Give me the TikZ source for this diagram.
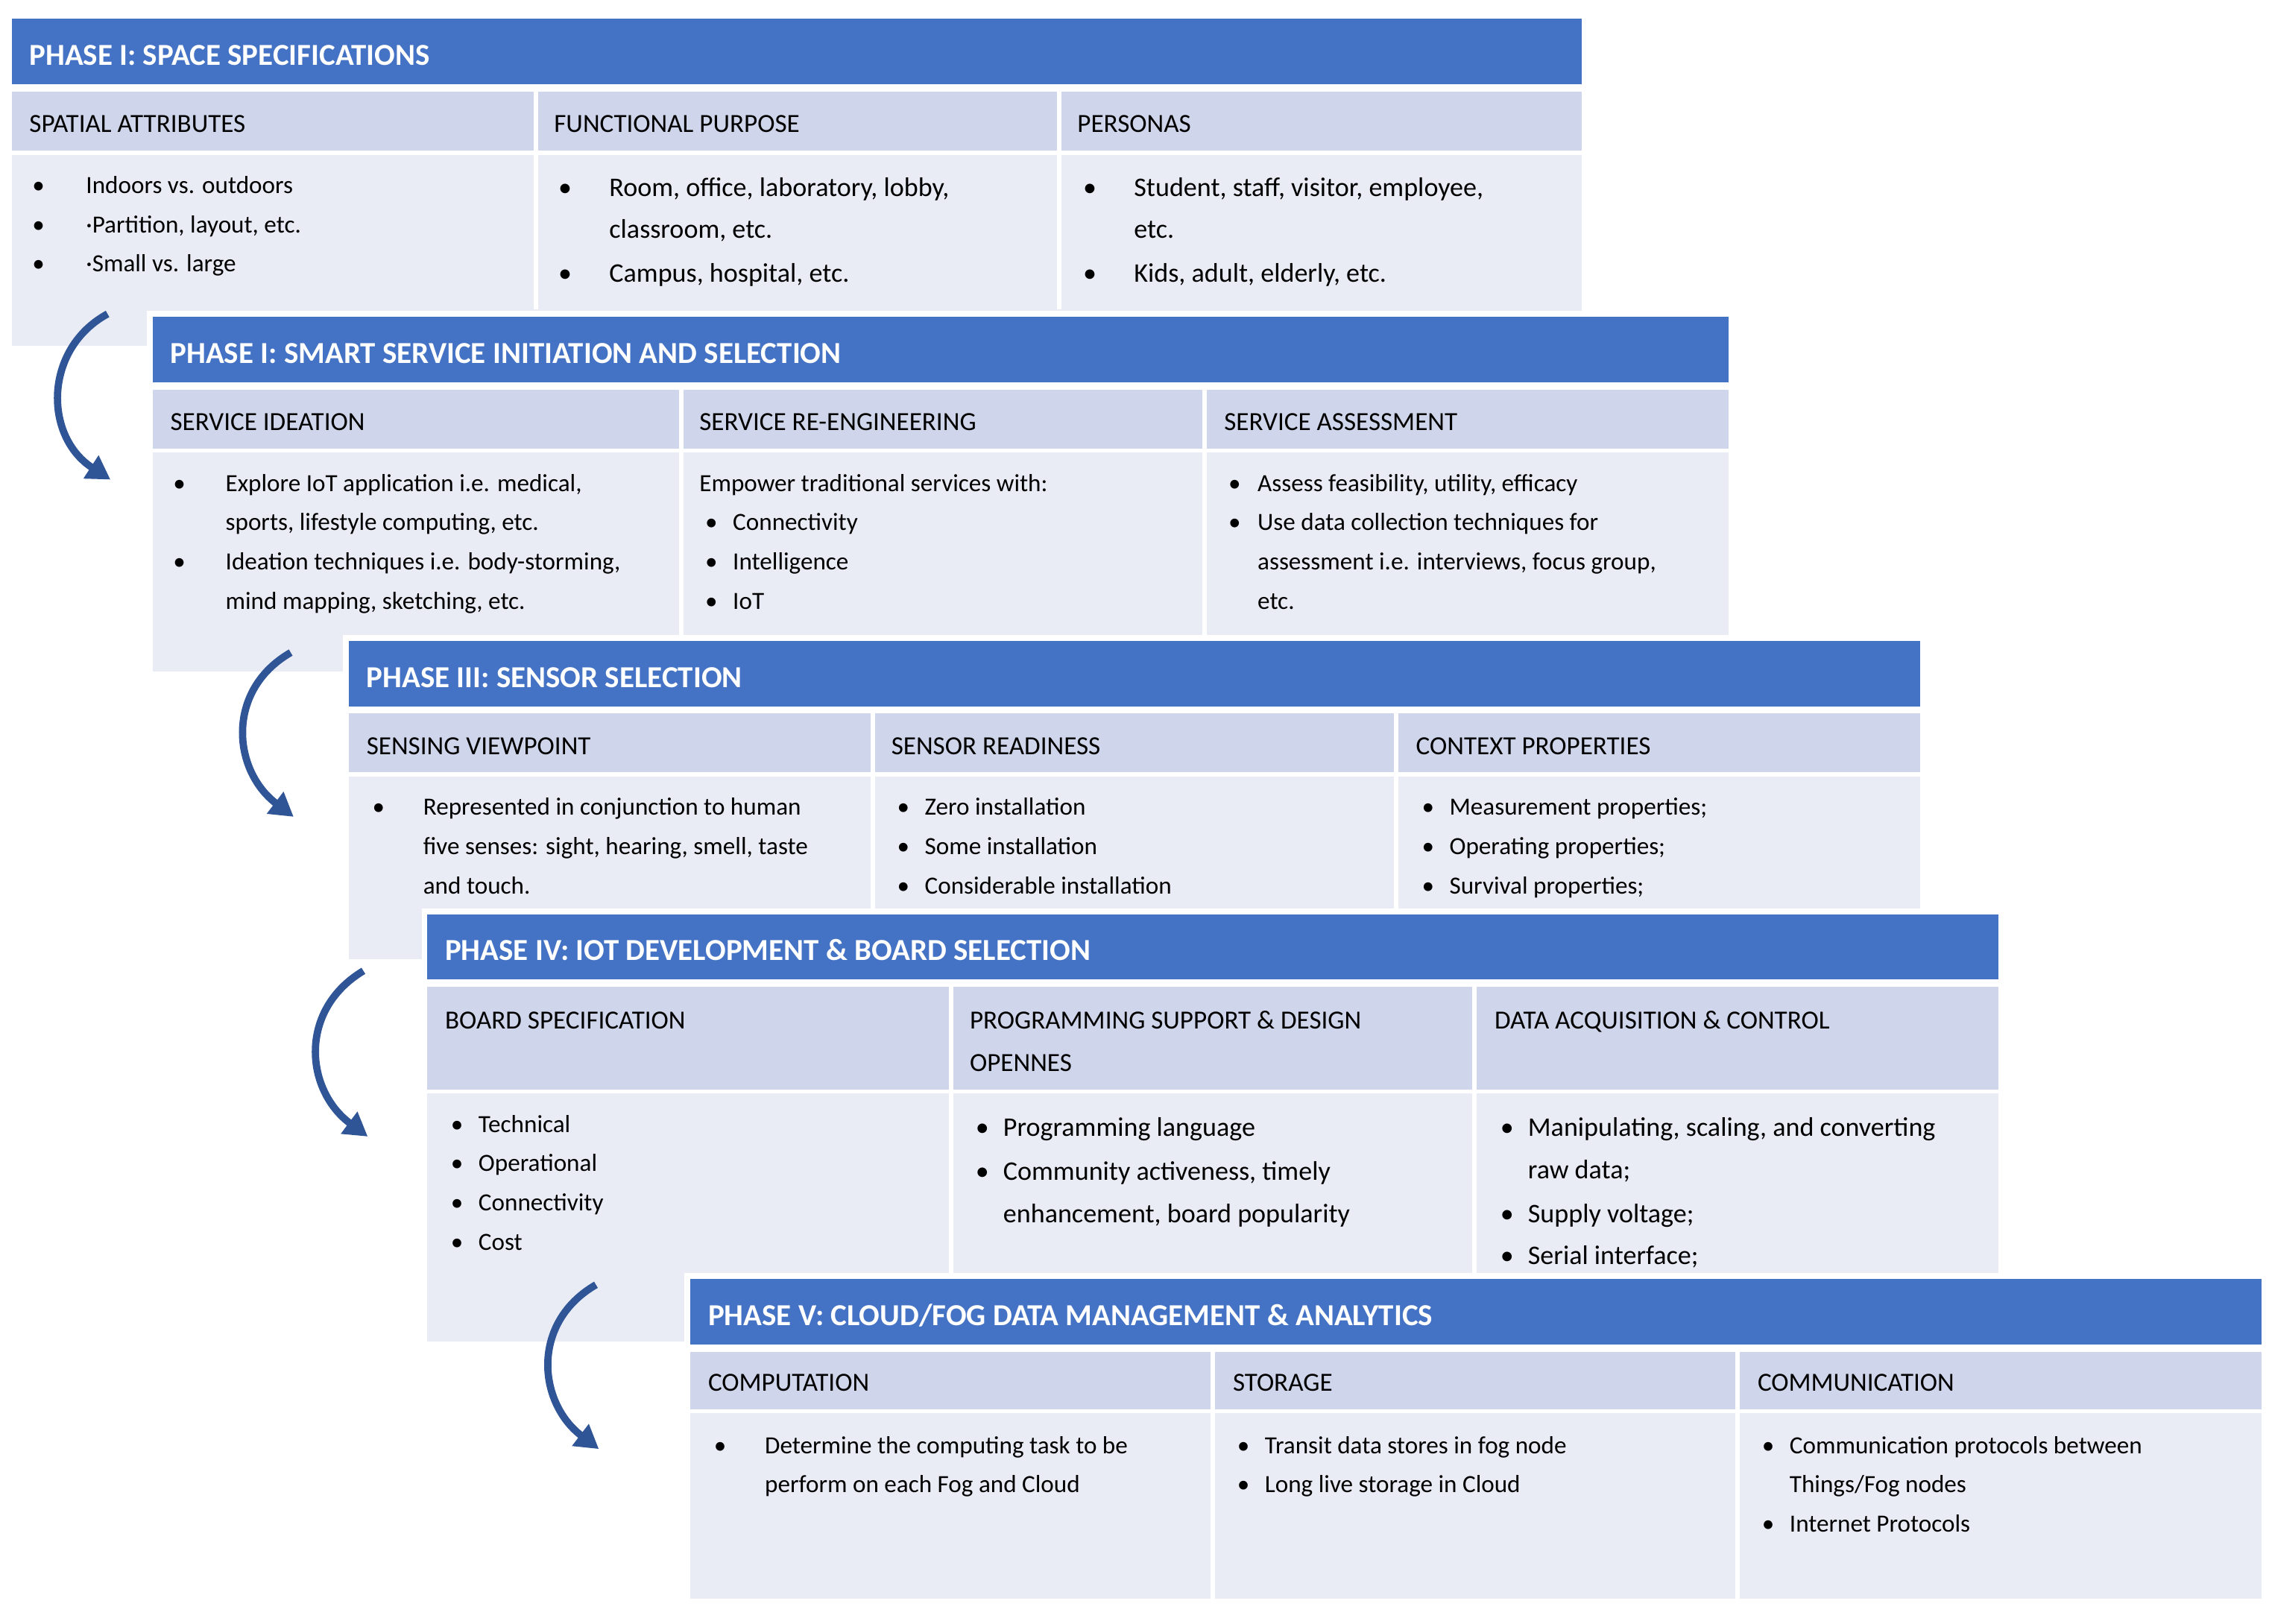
\documentclass[tikz,border=0pt]{standalone}
\usepackage{fontspec}
\setmainfont{Carlito}
\usetikzlibrary{arrows.meta}
\definecolor{tbar}{HTML}{4472C4}
\definecolor{hcell}{HTML}{CFD5EA}
\definecolor{bcell}{HTML}{E9EBF5}
\definecolor{arr}{HTML}{2F5597}
\newcounter{tn}
\tikzset{txt/.style={anchor=base west,inner sep=0,font=\fontsize{17}{20}\selectfont},
 ttl/.style={anchor=base west,inner sep=0,text=white,font=\bfseries\fontsize{21}{24}\selectfont},
 hdr/.style={anchor=base west,inner sep=0,font=\fontsize{18}{21}\selectfont},
 big/.style={font=\fontsize{18.5}{21}\selectfont},
 carrow/.style={arr,line width=5pt,-{Triangle[length=16pt,width=18pt]}}}
\newcommand\tx[3][]{\stepcounter{tn}\node[txt,#1] (t\arabic{tn}) at (#2) {#3};}
\newcommand\bt[5][]{\stepcounter{tn}\node[txt,#1] (b\arabic{tn}) at (#2,#4) {•};\node[txt,#1] (t\arabic{tn}) at (#3,#4) {#5};}
% panel: x0, c1, c2, x1, ytop, hbot, bbot, ext
\newcommand\panel[8]{%
 \fill[white] (#1-4,#5-4) rectangle (#4+4,#8+4);
 \fill[bcell] (#1,#5+45) rectangle (#4,#8);
 \fill[tbar] (#1,#5) rectangle (#4,#5+45);
 \fill[white] (#1,#5+45) rectangle (#4,#5+50);
 \fill[hcell] (#1,#5+50) rectangle (#4,#6);
 \draw[white,line width=3pt] (#1,#6+1) -- (#4,#6+1);
 \draw[white,line width=3pt] (#2,#5+50) -- (#2,#7) (#3,#5+50) -- (#3,#7);
}
\begin{document}
\begin{tikzpicture}[x=1pt,y=-1pt]
\useasboundingbox (0,0) rectangle (1561,1117);
% ---------- Panel 1
\panel{8}{368.5}{728.5}{1088}{13}{104}{213}{238}
\node[ttl] (p1) at (20,45) {PHASE I: SPACE SPECIFICATIONS};
\node[hdr] (h11) at (20,91) {SPATIAL ATTRIBUTES};
\node[hdr] (h12) at (381,91) {FUNCTIONAL PURPOSE};
\node[hdr] (h13) at (741,91) {PERSONAS};
\bt{22}{59}{133}{Indoors vs. outdoors}
\bt{22}{59}{160}{·Partition, layout, etc.}
\bt{22}{59}{187}{·Small vs. large}
\bt[big]{384}{419}{135}{Room, office, laboratory, lobby,}
\tx[big]{419,164}{classroom, etc.}
\bt[big]{384}{419}{194}{Campus, hospital, etc.}
\bt[big]{745}{780}{135}{Student, staff, visitor, employee,}
\tx[big]{780,164}{etc.}
\bt[big]{745}{780}{194}{Kids, adult, elderly, etc.}
\coordinate (a1s) at (74,216); \coordinate (a1e) at (76,330);
\draw[carrow] (a1s) .. controls (30,240) and (30,300) .. (a1e);
% ---------- Panel 2
\panel{105}{468.5}{828.5}{1189}{218}{309}{437}{462}
\node[ttl] (p2) at (117,250) {PHASE I: SMART SERVICE INITIATION AND SELECTION};
\node[hdr] (h21) at (117,296) {SERVICE IDEATION};
\node[hdr] (h22) at (481,296) {SERVICE RE-ENGINEERING};
\node[hdr] (h23) at (842,296) {SERVICE ASSESSMENT};
\bt{119}{155}{338}{Explore IoT application i.e. medical,}
\tx{155,365}{sports, lifestyle computing, etc.}
\bt{119}{155}{392}{Ideation techniques i.e. body-storming,}
\tx{155,419}{mind mapping, sketching, etc.}
\tx{481,338}{Empower traditional services with:}
\bt{485}{504}{365}{Connectivity}
\bt{485}{504}{392}{Intelligence}
\bt{485}{504}{419}{IoT}
\bt{845}{865}{338}{Assess feasibility, utility, efficacy}
\bt{845}{865}{365}{Use data collection techniques for}
\tx{865,392}{assessment i.e. interviews, focus group,}
\tx{865,419}{etc.}
\coordinate (a2s) at (200,449); \coordinate (a2e) at (202,562);
\draw[carrow] (a2s) .. controls (155,475) and (160,530) .. (a2e);
% ---------- Panel 3
\panel{240}{600.5}{960.5}{1321}{441}{532}{628}{660}
\node[ttl] (p3) at (252,473) {PHASE III: SENSOR SELECTION};
\node[hdr] (h31) at (252,519) {SENSING VIEWPOINT};
\node[hdr] (h32) at (613,519) {SENSOR READINESS};
\node[hdr] (h33) at (974,519) {CONTEXT PROPERTIES};
\bt{256}{291}{561}{Represented in conjunction to human}
\tx{291,588}{five senses: sight, hearing, smell, taste}
\tx{291,615}{and touch.}
\bt{617}{636}{561}{Zero installation}
\bt{617}{636}{588}{Some installation}
\bt{617}{636}{615}{Considerable installation}
\bt{978}{997}{561}{Measurement properties;}
\bt{978}{997}{588}{Operating properties;}
\bt{978}{997}{615}{Survival properties;}
\coordinate (a3s) at (250,668); \coordinate (a3e) at (253,782);
\draw[carrow] (a3s) .. controls (205,695) and (210,750) .. (a3e);
% ---------- Panel 4
\panel{294}{654.5}{1014.5}{1375}{629}{750}{877}{923}
\node[ttl] (p4) at (306,661) {PHASE IV: IOT DEVELOPMENT \& BOARD SELECTION};
\node[hdr] (h41) at (306,708) {BOARD SPECIFICATION};
\node[hdr] (h42) at (667,708) {PROGRAMMING SUPPORT \& DESIGN};
\node[hdr] (h42b) at (667,737) {OPENNES};
\node[hdr] (h43) at (1028,708) {DATA ACQUISITION \& CONTROL};
\bt{310}{329}{779}{Technical}
\bt{310}{329}{806}{Operational}
\bt{310}{329}{833}{Connectivity}
\bt{310}{329}{860}{Cost}
\bt[big]{671}{690}{782}{Programming language}
\bt[big]{671}{690}{812}{Community activeness, timely}
\tx[big]{690,841}{enhancement, board popularity}
\bt[big]{1032}{1051}{782}{Manipulating, scaling, and converting}
\tx[big]{1051,811}{raw data;}
\bt[big]{1032}{1051}{841}{Supply voltage;}
\bt[big]{1032}{1051}{870}{Serial interface;}
\coordinate (a4s) at (410,884); \coordinate (a4e) at (412,997);
\draw[carrow] (a4s) .. controls (365,910) and (370,965) .. (a4e);
% ---------- Panel 5
\panel{475}{834.5}{1195.5}{1556}{880}{970}{1100}{1100}
\node[ttl] (p5) at (487,912) {PHASE V: CLOUD/FOG DATA MANAGEMENT \& ANALYTICS};
\node[hdr] (h51) at (487,957) {COMPUTATION};
\node[hdr] (h52) at (848,957) {STORAGE};
\node[hdr] (h53) at (1209,957) {COMMUNICATION};
\bt{491}{526}{1000}{Determine the computing task to be}
\tx{526,1027}{perform on each Fog and Cloud}
\bt{851}{870}{1000}{Transit data stores in fog node}
\bt{851}{870}{1027}{Long live storage in Cloud}
\bt{1212}{1231}{1000}{Communication protocols between}
\tx{1231,1027}{Things/Fog nodes}
\bt{1212}{1231}{1054}{Internet Protocols}
\end{tikzpicture}
\end{document}
